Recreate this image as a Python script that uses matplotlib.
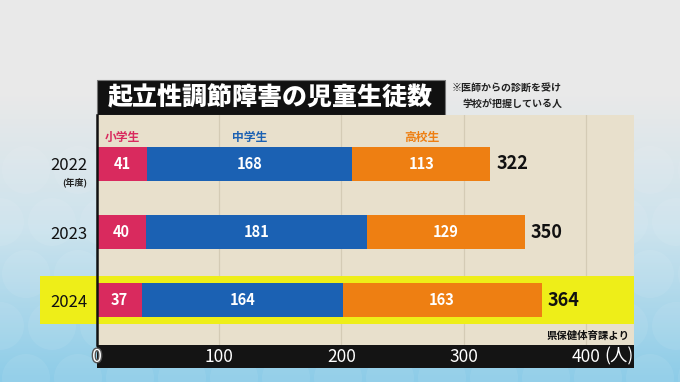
import numpy as np
import matplotlib
matplotlib.use('Agg')
import matplotlib.pyplot as plt
from matplotlib.patches import Rectangle, Circle
from matplotlib import transforms
import matplotlib.patheffects as pe

plt.rcParams['font.family'] = ['Noto Sans CJK JP', 'DejaVu Sans']

# data
years = ['2022', '2023', '2024']
elementary = [41, 40, 37]
junior_high = [168, 181, 164]
high_school = [113, 129, 163]
totals = [322, 350, 364]
series_names = ['小学生', '中学生', '高校生']
series_colors = ['#d92a5e', '#1b61b3', '#ee7f12']
xticks = [0, 100, 200, 300, 400]

W, H = 680, 382
fig = plt.figure(figsize=(W / 100, H / 100), dpi=100)

# background: grey top fading to light blue with faint circles
bg = fig.add_axes([0, 0, 1, 1], zorder=-2)
t = np.linspace(0, 1, H)[:, None]
top = np.array([0.914, 0.914, 0.914])
mid = np.array([0.80, 0.89, 0.93])
bot = np.array([0.55, 0.80, 0.91])
w1 = np.clip((t - 0.25) / 0.35, 0, 1)
w2 = np.clip((t - 0.6) / 0.4, 0, 1)
grad = top * (1 - w1) + mid * w1
grad = grad * (1 - w2) + bot * w2
img = np.repeat(grad[:, None, :], W, axis=1)
bg.imshow(img, extent=[0, W, H, 0], aspect='auto')
for cy in range(170, 420, 52):
    for cx in range(0, 720, 52):
        bg.add_patch(Circle((cx + (26 if (cy // 52) % 2 else 0), cy), 24,
                            facecolor='white', alpha=0.07, edgecolor='none'))
bg.set_xlim(0, W)
bg.set_ylim(H, 0)
bg.axis('off')

# title box and axis band
bg.add_patch(Rectangle((97, 80), 348, 35, facecolor='#111111', edgecolor='#777777', lw=0.8))
bg.text(108, 97.5, '起立性調節障害の児童生徒数', color='white', fontsize=18,
        fontweight='heavy', va='center', ha='left')
bg.text(452, 88, '※医師からの診断を受け', color='#222222', fontsize=7.2,
        fontweight='bold', va='center', ha='left')
bg.text(462, 104, '学校が把握している人', color='#222222', fontsize=7.2,
        fontweight='bold', va='center', ha='left')
bg.add_patch(Rectangle((97, 345), 537, 23, facecolor='#141414', edgecolor='none'))

# main chart
ax = fig.add_axes([97 / W, 1 - 345 / H, (634 - 97) / W, (345 - 115) / H])
ax.set_facecolor('#e8e0cc')
ax.set_xlim(0, 439.5)
ax.set_ylim(2.66, -0.72)
pos = np.arange(len(years))

for x in xticks[1:]:
    ax.axvline(x, color='#d4cbb5', lw=0.9, zorder=0.2)

# highlight band for latest year
blend = transforms.blended_transform_factory(fig.transFigure, ax.transData)
ax.add_patch(Rectangle((40 / W, pos[-1] - 0.355), (634 - 40) / W, 0.71,
                       transform=blend, facecolor='#eeee18', edgecolor='none',
                       clip_on=False, zorder=0.5))

left = np.zeros(len(years))
for vals, name, col in zip([elementary, junior_high, high_school], series_names, series_colors):
    vals = np.array(vals)
    ax.barh(pos, vals, left=left, height=0.5, color=col, zorder=2)
    for p, l, v in zip(pos, left, vals):
        ax.text(l + v / 2, p, str(v), color='white', fontsize=10.5, fontweight='bold',
                ha='center', va='center', zorder=3)
    ax.text(left[0] + vals[0] / 2, pos[0] - 0.39, name, color=col, fontsize=8.5,
            fontweight='bold', ha='center', va='center', zorder=3)
    left = left + vals

for p, tot in zip(pos, totals):
    ax.text(tot + 5, p, str(tot), color='#111111', fontsize=13, fontweight='bold',
            ha='left', va='center', zorder=3)

ax.set_yticks(pos)
ax.set_yticklabels(years, fontsize=12, color='#111111')
ax.tick_params(axis='y', length=0, pad=7)
ax.text(-18, pos[0] + 0.27, '(年度)', fontsize=6.5, fontweight='bold', color='#222222',
        ha='center', va='center', clip_on=False)

ax.set_xticks(xticks)
ax.set_xticklabels([str(v) for v in xticks], fontsize=12.5, color='white')
ax.tick_params(axis='x', length=0, pad=2)
ax.get_xticklabels()[0].set_path_effects([pe.withStroke(linewidth=2, foreground='#555555')])
bg.text(604, 356, '(人)', fontsize=12.5, color='white', ha='left', va='center')
ax.text(436, 2.53, '県保健体育課より', fontsize=7.5, fontweight='bold', color='#111111',
        ha='right', va='center', zorder=3)

for s in ['top', 'right', 'bottom']:
    ax.spines[s].set_visible(False)
ax.spines['left'].set_color('#111111')
ax.spines['left'].set_linewidth(1.8)
ax.spines['left'].set_zorder(4)

fig.savefig('out.png', dpi=100)
